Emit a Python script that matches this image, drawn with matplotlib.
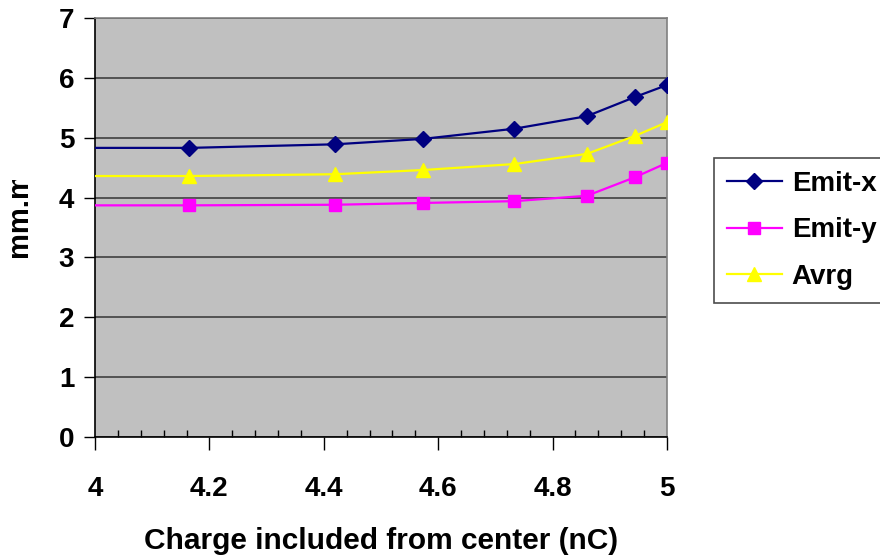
import matplotlib
matplotlib.use('Agg')
import matplotlib.pyplot as plt
from matplotlib.ticker import MultipleLocator
from matplotlib.transforms import Bbox

plt.rcParams['font.family'] = ['Liberation Sans', 'DejaVu Sans']
plt.rcParams['font.weight'] = 'bold'

# charge (nC); the first point sits left of the axis and only carries the line in
charge = [3.9, 4.165, 4.42, 4.573, 4.733, 4.86, 4.944, 5.0]
emit_x = [4.83, 4.83, 4.89, 4.98, 5.15, 5.36, 5.68, 5.88]
emit_y = [3.87, 3.87, 3.88, 3.91, 3.94, 4.03, 4.34, 4.58]
avrg = [4.36, 4.36, 4.39, 4.46, 4.56, 4.73, 5.03, 5.26]

series_names = ['Emit-x', 'Emit-y', 'Avrg']
colors = ['#000080', '#FF00FF', '#FFFF00']
markers = ['D', 's', '^']
msizes = [8, 9, 10]

fig = plt.figure(figsize=(8.8, 5.59), dpi=100)
ax = fig.add_axes([95/880, 1 - 437/559, (667 - 95)/880, (437 - 18)/559])
ax.set_facecolor('#C0C0C0')

for vals, name, c, m, ms in zip([emit_x, emit_y, avrg], series_names, colors, markers, msizes):
    ax.plot(charge, vals, color=c, lw=1.6, marker=m, markersize=ms,
            markeredgecolor=c, markerfacecolor=c, label=name, zorder=3)

ax.set_xlim(4, 5)
ax.set_ylim(0, 7)
ax.xaxis.set_minor_locator(MultipleLocator(0.04))
ax.yaxis.set_major_locator(MultipleLocator(1))
ax.set_xticks([4, 4.2, 4.4, 4.6, 4.8, 5])
ax.set_xticklabels(['4', '4.2', '4.4', '4.6', '4.8', '5'])

ax.grid(axis='y', color='#404040', lw=1.2, zorder=1)
ax.set_axisbelow(True)

ax.tick_params(axis='x', which='major', direction='out', length=9, width=1,
               labelsize=20, pad=19)
ax.tick_params(axis='x', which='minor', direction='in', length=5, width=1)
ax.tick_params(axis='y', which='major', direction='out', length=8, width=1,
               labelsize=20, pad=7)
for lab in ax.get_xticklabels() + ax.get_yticklabels():
    lab.set_fontweight('bold')

ax.spines['left'].set_color('black')
ax.spines['bottom'].set_color('black')
ax.spines['right'].set_color('#808080')
ax.spines['top'].set_color('#808080')
for s in ax.spines.values():
    s.set_linewidth(1.2)

ax.set_xlabel('Charge included from center (nC)', fontsize=21.5, fontweight='bold', labelpad=18)

# y label is cut off at its top in the original
yl = fig.text(19/880, 1 - 257/559, 'mm.mrad', rotation=90, fontsize=21,
              fontweight='bold', ha='center', va='bottom')
yl.set_clip_box(Bbox.from_extents(0, 0, 60, 559 - 180))

leg = fig.legend(loc='upper left', bbox_to_anchor=(714/880, 1 - 158/559),
                 borderaxespad=0, fontsize=20, frameon=True, fancybox=False,
                 handlelength=2.0, borderpad=0.45, labelspacing=0.75,
                 handletextpad=0.35)
leg.get_frame().set_edgecolor('#202020')
leg.get_frame().set_linewidth(1.2)
for t in leg.get_texts():
    t.set_fontweight('bold')

fig.savefig('out.png', dpi=100)
